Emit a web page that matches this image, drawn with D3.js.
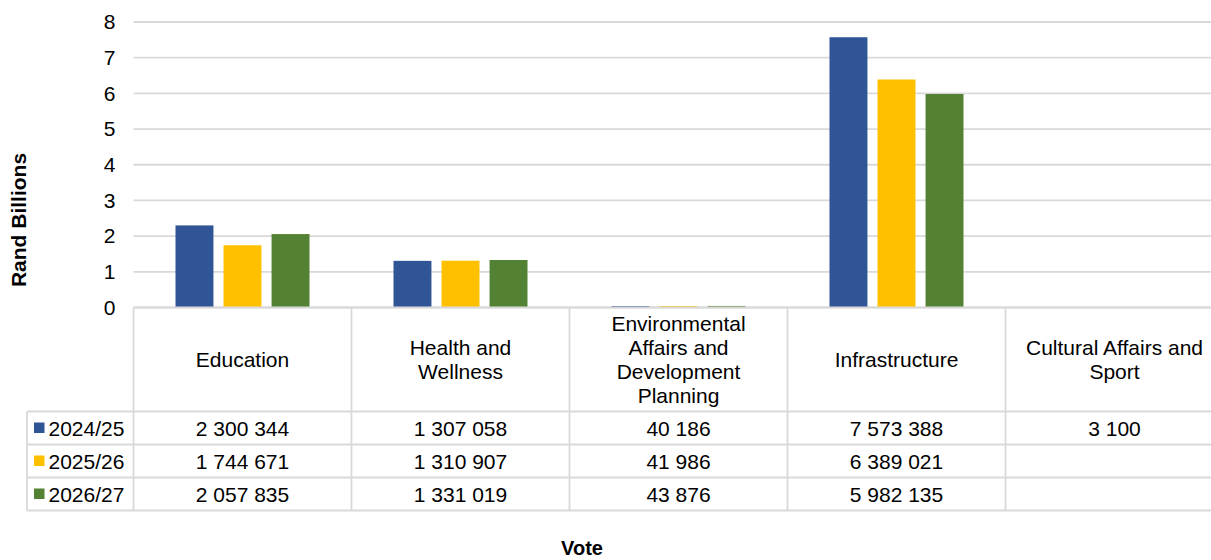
<!DOCTYPE html>
<html>
<head>
<meta charset="utf-8">
<script src="https://cdn.jsdelivr.net/npm/d3@7"></script>
<style>
  html, body { margin: 0; padding: 0; background: #fff; }
  svg { display: block; font-family: "Liberation Sans", Arial, sans-serif; }
</style>
</head>
<body>
<svg id="chart" width="1211" height="560"></svg>
<script>
// Votes (categories) and their wrapped header labels
const categories = ["Education", "Health and Wellness", "Environmental Affairs and Development Planning", "Infrastructure", "Cultural Affairs and Sport"];
const categoryLabels = [
  ["Education"],
  ["Health and", "Wellness"],
  ["Environmental", "Affairs and", "Development", "Planning"],
  ["Infrastructure"],
  ["Cultural Affairs and", "Sport"]
];

// Series: financial years, values in R thousand
const seriesNames = ["2024/25", "2025/26", "2026/27"];
const values2024 = [2300344, 1307058, 40186, 7573388, 3100];
const values2025 = [1744671, 1310907, 41986, 6389021, null];
const values2026 = [2057835, 1331019, 43876, 5982135, null];
const seriesColors = ["#2F5597", "#FFC000", "#548235"];

// Y axis ticks (Rand billions)
const yTicks = [0, 1, 2, 3, 4, 5, 6, 7, 8];

const series = seriesNames.map((name, i) => ({
  name,
  color: seriesColors[i],
  values: [values2024, values2025, values2026][i]
}));

const svg = d3.select("#chart");
const font = 21;
const gridColor = "#d9d9d9";

const plotLeft = 133.5, plotTop = 22, plotBottom = 307.5;
const colWidth = 218;
const plotRight = plotLeft + colWidth * categories.length;
const legendLeft = 27;
const headerBottom = 411.5;
const rowH = 33;

const x = d3.scaleBand().domain(categories).range([plotLeft, plotRight]).padding(0);
const inner = d3.scaleBand().domain(seriesNames).range([-67, 67]).paddingInner(0.21);
const y = d3.scaleLinear().domain([0, 8]).range([plotBottom, plotTop]);

const fmt = d3.formatLocale({ decimal: ".", thousands: " ", grouping: [3], currency: ["R", ""] }).format(",d");

// Gridlines
svg.append("g")
  .selectAll("line")
  .data(yTicks)
  .join("line")
  .attr("x1", plotLeft).attr("x2", plotRight)
  .attr("y1", d => y(d)).attr("y2", d => y(d))
  .attr("stroke", gridColor).attr("stroke-width", 1.8);

// Y axis labels
const yAxis = d3.axisLeft(y).tickValues(yTicks).tickSize(0).tickPadding(0).tickFormat(d3.format("d"));
const yg = svg.append("g").attr("transform", `translate(${plotLeft - 18},0)`).call(yAxis);
yg.select(".domain").remove();
yg.selectAll("text").attr("font-size", font).attr("fill", "#000")
  .attr("font-family", "'Liberation Sans', Arial, sans-serif");

// Bars
const bars = svg.append("g");
series.forEach(s => {
  bars.selectAll(null)
    .data(categories.map((c, i) => ({ c, v: s.values[i] })).filter(d => d.v != null))
    .join("rect")
    .attr("x", d => x(d.c) + x.bandwidth() / 2 + inner(s.name))
    .attr("width", inner.bandwidth())
    .attr("y", d => y(d.v / 1e6))
    .attr("height", d => y(0) - y(d.v / 1e6))
    .attr("fill", s.color);
});

// Data table lines
const table = svg.append("g").attr("stroke", gridColor).attr("stroke-width", 1.8);
// top of header row (axis line)
table.append("line").attr("x1", plotLeft).attr("x2", plotRight).attr("y1", plotBottom).attr("y2", plotBottom);
// row separators incl. legend column
d3.range(seriesNames.length + 1).forEach(i => {
  const yy = headerBottom + i * rowH;
  table.append("line").attr("x1", legendLeft).attr("x2", plotRight).attr("y1", yy).attr("y2", yy);
});
// column separators
categories.forEach(c => {
  table.append("line").attr("x1", x(c)).attr("x2", x(c)).attr("y1", plotBottom).attr("y2", headerBottom + rowH * seriesNames.length);
});
table.append("line").attr("x1", plotRight).attr("x2", plotRight).attr("y1", plotBottom).attr("y2", headerBottom + rowH * seriesNames.length);
// legend column left edge
table.append("line").attr("x1", legendLeft).attr("x2", legendLeft).attr("y1", headerBottom).attr("y2", headerBottom + rowH * seriesNames.length);

// Header labels
const headerMid = (plotBottom + headerBottom) / 2;
const lineH = 24;
categories.forEach((c, i) => {
  const lines = categoryLabels[i];
  const t = svg.append("text")
    .attr("x", x(c) + x.bandwidth() / 2)
    .attr("text-anchor", "middle")
    .attr("font-size", font)
    .attr("fill", "#000");
  lines.forEach((ln, k) => {
    t.append("tspan")
      .attr("x", x(c) + x.bandwidth() / 2)
      .attr("y", headerMid + (k - (lines.length - 1) / 2) * lineH)
      .attr("dy", "0.36em")
      .text(ln);
  });
});

// Legend keys and values
series.forEach((s, r) => {
  const cy = headerBottom + r * rowH + rowH / 2;
  svg.append("rect").attr("x", 34).attr("y", cy - 5.5).attr("width", 10.5).attr("height", 10.5).attr("fill", s.color);
  svg.append("text").attr("x", 48.5).attr("y", cy).attr("dy", "0.36em")
    .attr("font-size", font).attr("fill", "#000").text(s.name);
  categories.forEach((c, i) => {
    const v = s.values[i];
    if (v == null) return;
    svg.append("text")
      .attr("x", x(c) + x.bandwidth() / 2).attr("y", cy).attr("dy", "0.36em")
      .attr("text-anchor", "middle").attr("font-size", font).attr("fill", "#000")
      .text(fmt(v));
  });
});

// Axis titles
svg.append("text")
  .attr("transform", "translate(26,220) rotate(-90)")
  .attr("text-anchor", "middle").attr("font-size", font).attr("font-weight", "bold").attr("fill", "#000")
  .text("Rand Billions");
svg.append("text")
  .attr("x", 582).attr("y", 555)
  .attr("text-anchor", "middle").attr("font-size", 20).attr("font-weight", "bold").attr("fill", "#000")
  .text("Vote");
</script>
</body>
</html>
